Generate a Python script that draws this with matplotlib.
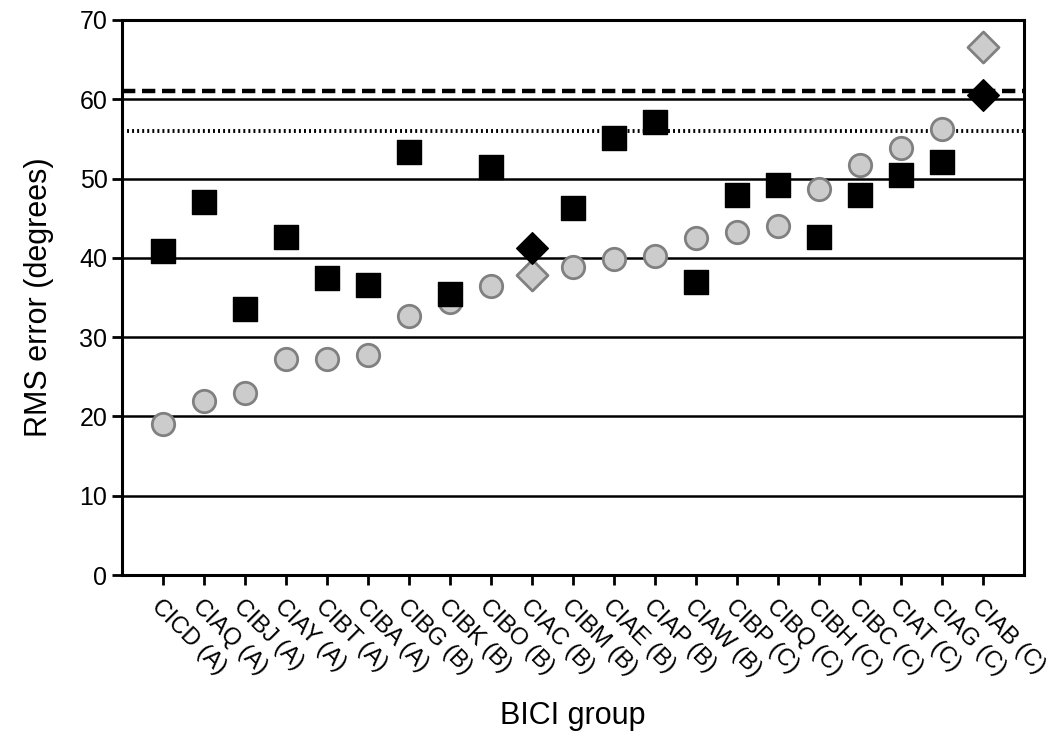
import matplotlib
matplotlib.use('Agg')
import matplotlib.pyplot as plt
import numpy as np

plt.rcParams['font.family'] = ['Liberation Sans', 'DejaVu Sans']

# BICI groups along the x axis
groups = ['CICD (A)', 'CIAQ (A)', 'CIBJ (A)', 'CIAY (A)', 'CIBT (A)', 'CIBA (A)',
          'CIBG (B)', 'CIBK (B)', 'CIBO (B)', 'CIAC (B)', 'CIBM (B)', 'CIAE (B)',
          'CIAP (B)', 'CIAW (B)', 'CIBP (C)', 'CIBQ (C)', 'CIBH (C)', 'CIBC (C)',
          'CIAT (C)', 'CIAG (C)', 'CIAB (C)']

# grey series (circles; diamonds for the two special groups)
grey_vals = [19.0, 21.9, 23.0, 27.3, 27.3, 27.7, 32.7, 34.4, 36.5, 37.8, 38.8,
             39.8, 40.2, 42.5, 43.3, 44.0, 48.7, 51.7, 53.8, 56.2, 66.6]
# black series (squares; diamonds for the two special groups)
black_vals = [40.9, 47.1, 33.6, 42.6, 37.5, 36.6, 53.4, 35.5, 51.4, 41.3, 46.3,
              55.1, 57.1, 37.0, 47.9, 49.2, 42.6, 47.9, 50.4, 52.1, 60.5]
diamond_groups = ['CIAC (B)', 'CIAB (C)']

dashed_ref = 61.0
dotted_ref = 56.0

fig = plt.figure(figsize=(10.5, 7.37), dpi=100)
ax = fig.add_axes([0.1162, 0.2198, 0.8590, 0.7531])

x = np.arange(len(groups))
is_dia = np.array([g in diamond_groups for g in groups])
grey = np.array(grey_vals)
black = np.array(black_vals)

# gridlines
for v in range(10, 70, 10):
    ax.axhline(v, color='black', lw=1.8, zorder=1)

ax.axhline(dashed_ref, color='black', lw=3.2, ls=(0, (3.0, 1.5)), zorder=2)
ax.axhline(dotted_ref, color='black', lw=2.8, ls=(0, (0.5, 0.8)), zorder=2)

ax.scatter(x[~is_dia], grey[~is_dia], s=260, marker='o', facecolor='#cccccc',
           edgecolor='#808080', linewidth=2, zorder=3)
ax.scatter(x[is_dia], grey[is_dia], s=250, marker='D', facecolor='#cccccc',
           edgecolor='#808080', linewidth=2, zorder=3)
ax.scatter(x[~is_dia], black[~is_dia], s=310, marker='s', facecolor='black',
           edgecolor='black', linewidth=1, zorder=4)
ax.scatter(x[is_dia], black[is_dia], s=260, marker='D', facecolor='black',
           edgecolor='black', linewidth=1, zorder=4)

ax.set_xlim(-1, 21)
ax.set_ylim(0, 70)
ax.set_yticks(range(0, 71, 10))
ax.set_xticks(x)
ax.set_xticklabels(groups, rotation=-45, ha='left', va='top',
                   rotation_mode='anchor', fontsize=17)
ax.tick_params(axis='y', labelsize=18, direction='out', length=7, width=2)
ax.tick_params(axis='x', direction='out', length=7, width=2, pad=8)

for sp in ax.spines.values():
    sp.set_linewidth(2.2)
    sp.set_color('black')

ax.set_ylabel('RMS error (degrees)', fontsize=22, labelpad=18)
ax.set_xlabel('BICI group', fontsize=22, labelpad=14)

fig.savefig('out.png', dpi=100)
